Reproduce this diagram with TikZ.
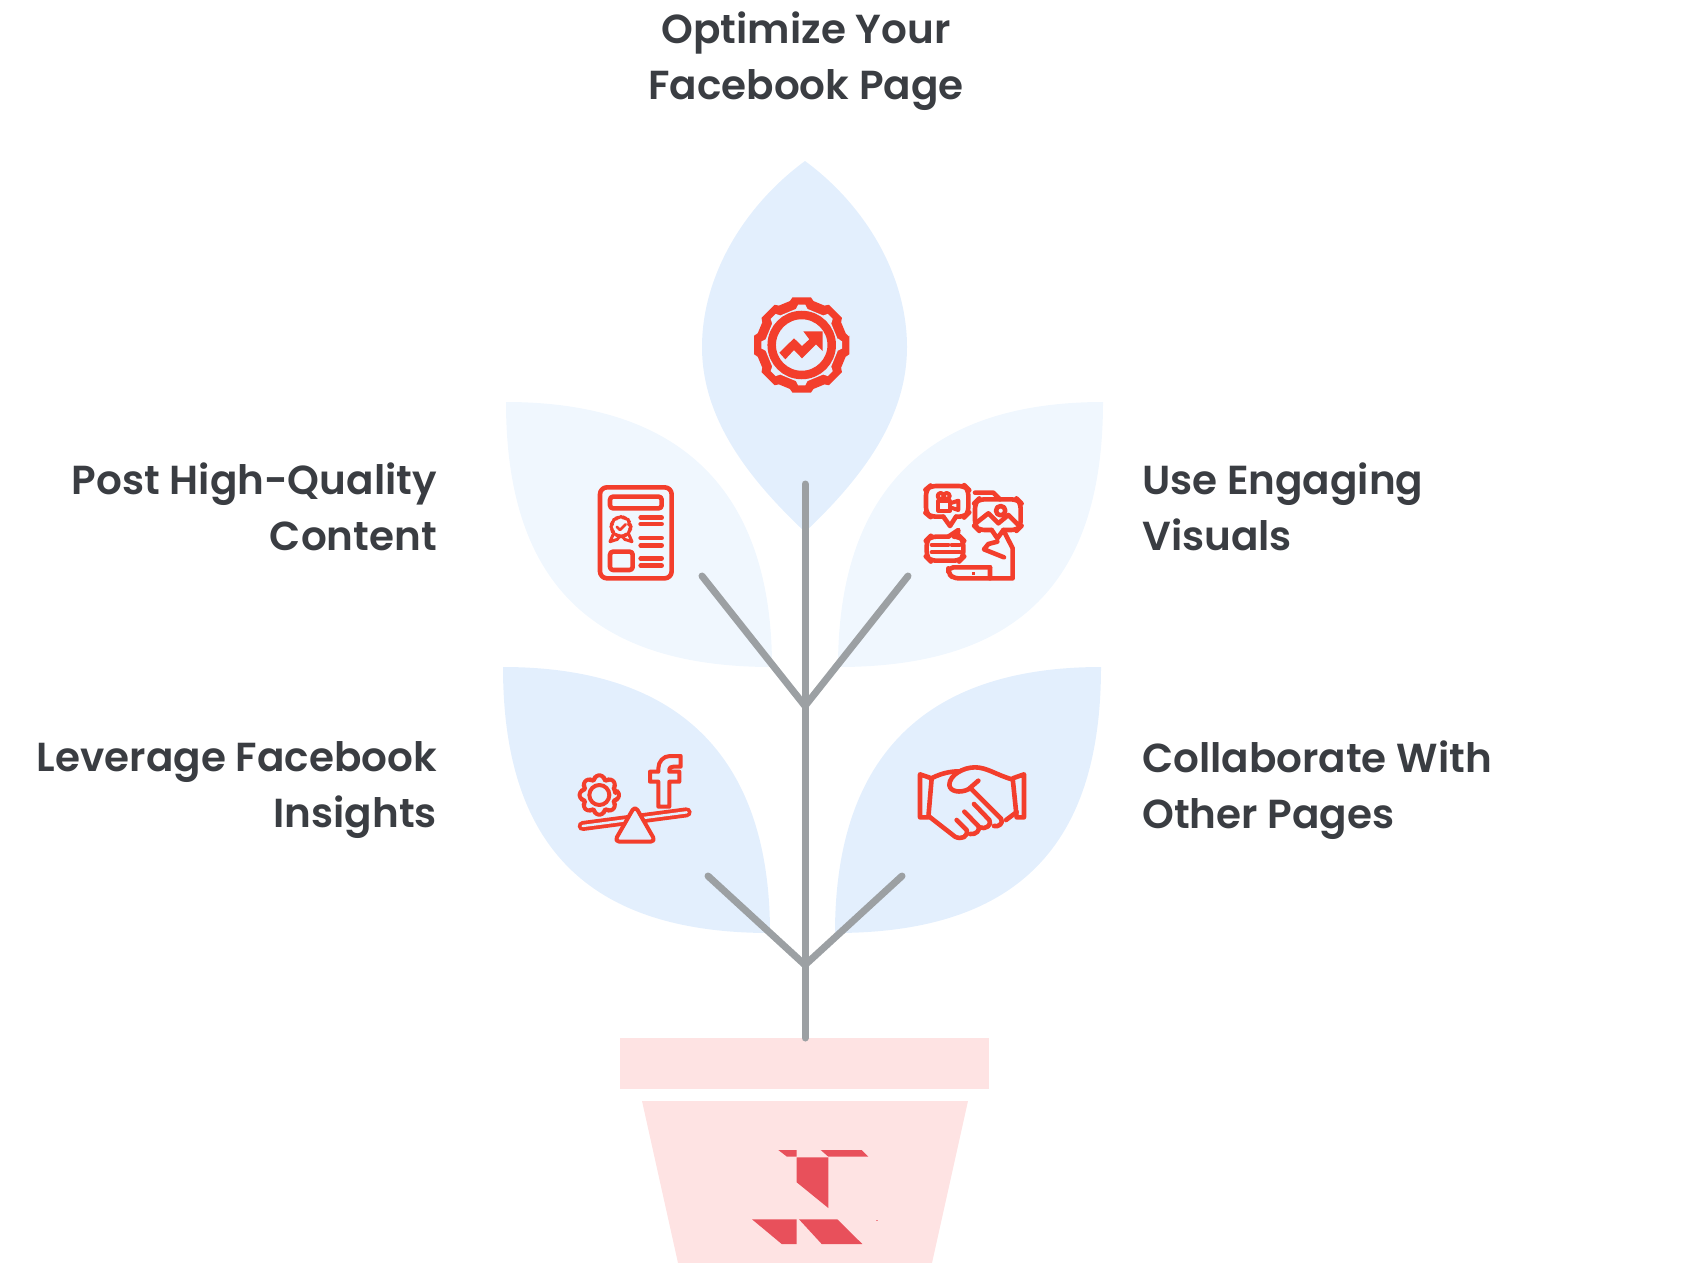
\documentclass[tikz,border=0pt]{standalone}
\usepackage{fontspec}
\setmainfont{Poppins}[UprightFont=* SemiBold]
\definecolor{leafdark}{HTML}{E3EFFD}
\definecolor{leaflight}{HTML}{F0F7FE}
\definecolor{stemgray}{HTML}{9CA0A3}
\definecolor{potpink}{HTML}{FEE3E3}
\definecolor{logored}{HTML}{E8505B}
\definecolor{iconred}{HTML}{F33E2C}
\definecolor{labeltext}{HTML}{3A3D42}
\tikzset{
  label text/.style={text=labeltext, font=\fontsize{40.5}{56}\selectfont, inner sep=0pt},
  stem/.style={draw=stemgray, line width=7pt, line cap=round},
  icon/.style={draw=iconred, line width=4.6pt, line join=round, line cap=round},
}
\begin{document}
\begin{tikzpicture}[x=1pt, y=-1pt]
  \useasboundingbox (0,0) rectangle (1694,1263);
  % leaves
  \fill[leafdark] (805,161) .. controls (745,205) and (702,275) .. (702,347)
    .. controls (702,420) and (750,480) .. (805,532)
    .. controls (860,480) and (907,420) .. (907,347)
    .. controls (907,275) and (865,205) .. (805,161) -- cycle;
  \fill[leaflight] (506,402) .. controls (690,402) and (772,500) .. (772,667)
    .. controls (590,667) and (506,580) .. (506,402) -- cycle;
  \fill[leaflight] (1103,402) .. controls (919,402) and (838,500) .. (838,667)
    .. controls (1020,667) and (1103,580) .. (1103,402) -- cycle;
  \fill[leafdark] (503,667) .. controls (687,667) and (770,765) .. (770,933)
    .. controls (587,933) and (503,845) .. (503,667) -- cycle;
  \fill[leafdark] (1101,667) .. controls (917,667) and (835,765) .. (835,933)
    .. controls (1018,933) and (1101,845) .. (1101,667) -- cycle;
  % pot
  \fill[potpink] (620,1038) rectangle (989,1089);
  \fill[potpink] (642,1101) -- (968,1101) -- (932,1263) -- (678,1263) -- cycle;
  \fill[logored] (778.3,1150) -- (796.7,1150) -- (796.7,1156.7) -- (787,1156.7) -- cycle;
  \fill[logored] (820.7,1150) -- (861.7,1150) -- (868.3,1156.7) -- (828.3,1156.7) -- cycle;
  \fill[logored] (796.7,1157.3) -- (828.3,1157.3) -- (828.3,1208) -- (796.7,1182.3) -- cycle;
  \fill[logored] (752,1219.3) -- (796.7,1219.3) -- (796.7,1244) -- (781.7,1244) -- cycle;
  \fill[logored] (799,1219.3) -- (837.3,1219.3) -- (862.3,1244) -- (821.7,1244) -- cycle;
  \fill[logored!70] (876,1219.5) rectangle (877.6,1221);
  % stem
  \coordinate (stemtop) at (805,484);
  \coordinate (stembase) at (805,1038);
  \coordinate (forkup) at (805,706);
  \coordinate (forklow) at (805,965);
  \coordinate (twigul) at (702,576);
  \coordinate (twigur) at (908,576);
  \coordinate (twigll) at (708,876);
  \coordinate (twiglr) at (902,876);
  \draw[stem] (stemtop) -- (stembase);
  \draw[stem] (twigul) -- (forkup) -- (twigur);
  \draw[stem] (twigll) -- (forklow) -- (twiglr);
  % labels
  \node[label text, align=center] (optimize) at (806,61) {Optimize Your\\Facebook Page};
  \node[label text, align=right, anchor=east] (post) at (437,507) {Post High-Quality\\Content};
  \node[label text, align=right, anchor=east] (leverage) at (437,790) {Leverage Facebook\\Insights};
  \node[label text, align=left, anchor=west] (visuals) at (1142,507) {Use Engaging\\Visuals};
  \node[label text, align=left, anchor=west] (collab) at (1142,790) {Collaborate With\\Other Pages};
  % gear icon
  \begin{scope}[shift={(801.7,345)}]
    \fill[iconred] (-10:48) \foreach \a in {0,45,...,315} {
      -- (\a-11:48.5) -- (\a+11:48.5) -- (\a+15:45.5) -- (\a+30:45.5)} -- cycle;
    \fill[leafdark] (-10:37) \foreach \a in {0,45,...,315} {
      -- (\a-5:40.5) -- (\a+5:40.5) -- (\a+9:36.5) -- (\a+36:36.5)} -- cycle;
    \draw[iconred, line width=8.5pt] (0,0) circle (30);
  \end{scope}
  \begin{scope}[shift={(680,260)}, scale=1/3]
    \fill[iconred] (298,278) -- (342,235) -- (366,258) -- (388,238) -- (370,214) -- (428,214)
      -- (428,273) -- (408,253) -- (366,295) -- (342,270) -- (316,298) -- cycle;
  \end{scope}
  % document icon
  \begin{scope}[shift={(570,470)}, scale=1/3]
    \draw[icon, rounded corners=7pt] (90,52) rectangle (305,325);
    \draw[icon, rounded corners=3pt] (120,80) rectangle (275,115);
    \draw[icon, rounded corners=3pt] (120,245) rectangle (188,300);
    \foreach \ya/\yb in {143/162, 204/226, 265/287} {
      \draw[icon] (212,\ya) -- (275,\ya);
      \draw[icon] (212,\yb) -- (275,\yb);
    }
    \begin{scope}[shift={(153,170)}]
      \draw[icon, line width=3pt, rounded corners=2pt] (-15:24) \foreach \a in {0,45,...,315} {
        -- (\a-10:31) -- (\a+10:31) -- (\a+20:26)} -- cycle;
    \end{scope}
    \draw[icon, line width=2.6pt] (140,170) -- (150,180) -- (167,163);
    \draw[icon, line width=3pt] (130,192) -- (120,215) -- (142,208) -- (150,197);
    \draw[icon, line width=3pt] (176,192) -- (186,215) -- (164,208) -- (156,197);
  \end{scope}
  % media icon
  \begin{scope}[shift={(910,470)}, scale=1/3]
    \draw[icon, rounded corners=6pt] (100,140) -- (60,140) -- (48,130) -- (48,58) -- (60,48)
      -- (165,48) -- (175,58) -- (175,130) -- (165,140) -- (138,140);
    \draw[icon] (100,140) -- (120,168) -- (138,140);
    \draw[icon, line width=4pt] (85,92) rectangle (120,122);
    \draw[icon, line width=4pt] (92,78) circle (9);
    \draw[icon, line width=4pt] (110,78) circle (9);
    \draw[icon, line width=4pt] (120,100) -- (145,92) -- (145,120) -- (120,112);
    \draw[icon] (195,68) -- (250,68) -- (270,88);
    \draw[icon, rounded corners=6pt] (245,180) -- (205,180) -- (195,170) -- (195,98) -- (205,88)
      -- (322,88) -- (332,98) -- (332,170) -- (322,180) -- (280,180);
    \draw[icon] (245,180) -- (262,205) -- (280,180);
    \draw[icon] (272,122) circle (14);
    \draw[icon] (197,160) -- (235,130) -- (265,160) -- (295,135) -- (330,170);
    \draw[icon] (285,190) -- (308,235) -- (308,325) -- (240,325) -- (240,292);
    \draw[icon] (262,215) -- (235,222) -- (222,238) -- (282,262);
    \draw[icon, rounded corners=6pt] (115,200) -- (60,200) -- (50,210) -- (50,262) -- (60,272)
      -- (150,272) -- (160,262) -- (160,210) -- (150,200) -- (142,200);
    \draw[icon] (115,200) -- (145,180) -- (142,200);
    \draw[icon, line width=4pt] (65,224) -- (115,224);
    \draw[icon, line width=4pt] (125,224) -- (150,224);
    \draw[icon, line width=4pt] (65,247) -- (150,247);
    \draw[icon, rounded corners=5pt] (240,292) -- (115,292) -- (115,310) -- (130,325) -- (240,325);
    \fill[iconred] (185,305) rectangle (196,316);
  \end{scope}
  % balance icon
  \begin{scope}[shift={(560,740)}, scale=1/3]
    \draw[icon, line width=4pt] (118,165) circle (30);
    \begin{scope}[shift={(118,165)}]
      \draw[icon, line width=4pt, rounded corners=3pt] (-10:48) \foreach \a in {0,45,...,315} {
        -- (\a-11:60) -- (\a+11:60) -- (\a+17:48) -- (\a+28:48)} -- cycle;
    \end{scope}
    \draw[icon, line width=4pt, line cap=butt] (362,48) -- (330,48) .. controls (310,48) and (295,65) .. (295,85)
      -- (295,95) -- (270,95) -- (270,125) -- (295,125) -- (295,200) -- (328,200) -- (328,125)
      -- (358,125) -- (358,95) -- (328,95) -- (328,88) .. controls (328,83) and (333,80) .. (340,80)
      -- (362,80) -- cycle;
    \draw[draw=iconred, line width=10pt, line cap=round] (68,258) -- (380,217);
    \draw[draw=leafdark, line width=2.4pt, line cap=round] (68,258) -- (380,217);
    \draw[icon, fill=leafdark, line width=4pt, rounded corners=5pt] (225,197) -- (163,305) -- (287,305) -- cycle;
  \end{scope}
  % handshake icon
  \begin{scope}[shift={(900,740)}, scale=1/3]
    \draw[icon] (60,103) -- (95,115) -- (85,232) -- (60,232) -- cycle;
    \draw[icon] (372,103) -- (338,115) -- (350,232) -- (372,232) -- cycle;
    \draw[icon] (98,113) .. controls (125,100) and (150,94) .. (178,94);
    \draw[icon] (235,122) -- (205,148) .. controls (180,160) and (150,155) .. (148,135)
      .. controls (148,105) and (190,82) .. (225,82) .. controls (260,82) and (290,105) .. (336,118);
    \draw[icon] (215,148) -- (303,236) .. controls (312,250) and (295,262) .. (282,258);
    \draw[icon] (222,192) -- (268,240) .. controls (278,255) and (255,270) .. (240,262);
    \draw[icon] (193,215) -- (235,258) .. controls (242,270) and (228,285) .. (210,282);
    \draw[icon] (170,240) -- (200,270) .. controls (205,290) and (185,300) .. (165,290) -- (88,230);
    \draw[icon] (318,240) -- (350,216);
  \end{scope}
\end{tikzpicture}
\end{document}
